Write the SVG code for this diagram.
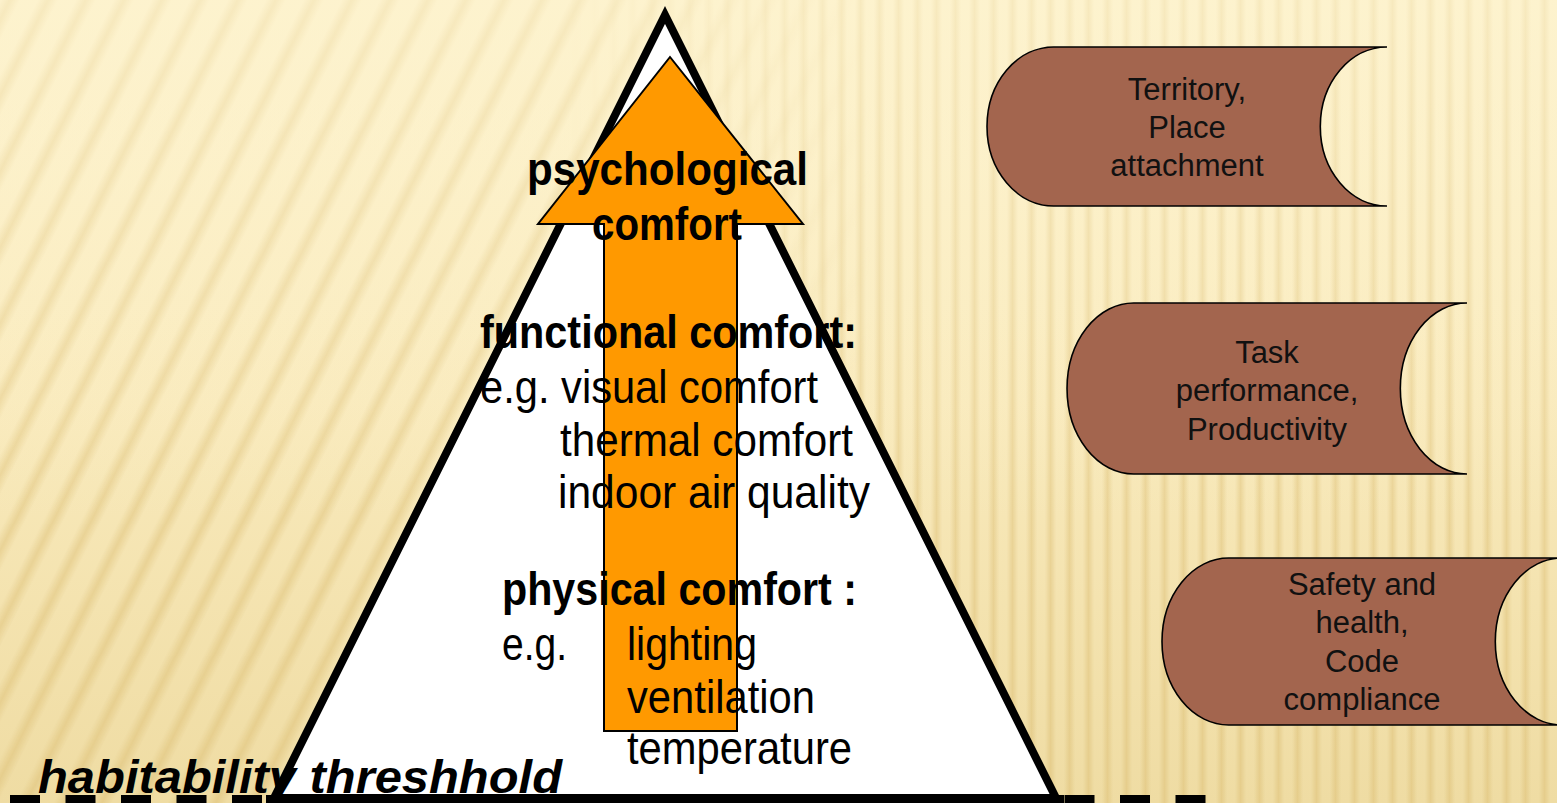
<svg xmlns="http://www.w3.org/2000/svg" width="1557" height="803" viewBox="0 0 1557 803">
<style>
  .t{font-family:"Liberation Sans",Arial,Helvetica,sans-serif;fill:#000;font-size:46px}
  .b{font-weight:bold}
  .bi{font-weight:bold;font-style:italic}
  .box{fill:#A3654E;stroke:#000;stroke-width:1.6}
  .boxt{font-family:"Liberation Sans",Arial,Helvetica,sans-serif;font-size:31px;fill:#111;text-anchor:middle}
</style>
<defs>
  <linearGradient id="bgGrad" x1="0" y1="0" x2="0" y2="1">
    <stop offset="0" stop-color="#FDF2CC"/>
    <stop offset="0.5" stop-color="#F9EABC"/>
    <stop offset="1" stop-color="#EFDCA3"/>
  </linearGradient>
  <linearGradient id="stripeG" x1="0" y1="0" x2="1" y2="0">
    <stop offset="0" stop-color="#D6B566" stop-opacity="0"/>
    <stop offset="0.5" stop-color="#D6B566" stop-opacity="0.38"/>
    <stop offset="1" stop-color="#D6B566" stop-opacity="0"/>
  </linearGradient>
  <pattern id="slant" width="38" height="40" patternUnits="userSpaceOnUse" patternTransform="skewX(-26.6)">
    <rect x="0" y="0" width="20" height="40" fill="url(#stripeG)"/>
  </pattern>
  <pattern id="vert" width="19" height="40" patternUnits="userSpaceOnUse">
    <rect x="0" y="0" width="11" height="40" fill="url(#stripeG)"/>
  </pattern>
  <linearGradient id="fadeL" x1="0" y1="0" x2="1557" y2="0" gradientUnits="userSpaceOnUse">
    <stop offset="0" stop-color="#fff"/>
    <stop offset="0.36" stop-color="#fff"/>
    <stop offset="0.56" stop-color="#000"/>
    <stop offset="1" stop-color="#000"/>
  </linearGradient>
  <linearGradient id="fadeR" x1="0" y1="0" x2="1557" y2="0" gradientUnits="userSpaceOnUse">
    <stop offset="0" stop-color="#000"/>
    <stop offset="0.36" stop-color="#000"/>
    <stop offset="0.56" stop-color="#fff"/>
    <stop offset="1" stop-color="#fff"/>
  </linearGradient>
  <mask id="mL"><rect width="1557" height="803" fill="url(#fadeL)"/></mask>
  <mask id="mR"><rect width="1557" height="803" fill="url(#fadeR)"/></mask>
  <linearGradient id="topFade" x1="0" y1="0" x2="0" y2="1">
    <stop offset="0" stop-color="#FDF3CF" stop-opacity="0.6"/>
    <stop offset="0.65" stop-color="#FDF3CF" stop-opacity="0"/>
  </linearGradient>
</defs>

<g id="background">
  <rect width="1557" height="803" fill="url(#bgGrad)"/>
  <rect width="1557" height="803" fill="url(#slant)" mask="url(#mL)"/>
  <rect width="1557" height="803" fill="url(#vert)" mask="url(#mR)"/>
  <rect width="1557" height="803" fill="url(#topFade)"/>
</g>

<g id="pyramid">
  <polygon points="665,15 274,798 1056,798" fill="#fff" stroke="#000" stroke-width="8"/>
</g>

<g id="threshold-line">
  <line x1="10" y1="799" x2="1206" y2="799" stroke="#000" stroke-width="8" stroke-dasharray="30 25.5"/>
  <line x1="266" y1="799" x2="1064" y2="799" stroke="#000" stroke-width="8"/>
</g>

<g id="connectors">
  <path id="arrow" d="M670,57 L803,224 L737,224 L737,731 L604,731 L604,224 L538,224 Z" fill="#FF9900" stroke="#000" stroke-width="2" stroke-linejoin="miter"/>
</g>

<g id="pyramid-labels">
  <text class="t b" x="527" y="185" textLength="281" lengthAdjust="spacingAndGlyphs">psychological</text>
  <text class="t b" x="592" y="240" textLength="150" lengthAdjust="spacingAndGlyphs">comfort</text>
  <text class="t b" x="480" y="348" textLength="377" lengthAdjust="spacingAndGlyphs">functional comfort:</text>
  <text class="t" x="480" y="403" textLength="338" lengthAdjust="spacingAndGlyphs">e.g. visual comfort</text>
  <text class="t" x="560" y="456" textLength="293" lengthAdjust="spacingAndGlyphs">thermal comfort</text>
  <text class="t" x="558" y="508" textLength="312" lengthAdjust="spacingAndGlyphs">indoor air quality</text>
  <text class="t b" x="502" y="605" textLength="355" lengthAdjust="spacingAndGlyphs">physical comfort :</text>
  <text class="t" x="502" y="660" textLength="65" lengthAdjust="spacingAndGlyphs">e.g.</text>
  <text class="t" x="627" y="660" textLength="130" lengthAdjust="spacingAndGlyphs">lighting</text>
  <text class="t" x="627" y="713" textLength="188" lengthAdjust="spacingAndGlyphs">ventilation</text>
  <text class="t" x="627" y="764" textLength="225" lengthAdjust="spacingAndGlyphs">temperature</text>
  <text class="t bi" x="38" y="793" textLength="524" lengthAdjust="spacingAndGlyphs">habitability threshhold</text>
</g>

<g id="node-territory">
  <path class="box" d="M1053.7,47 L1387,47 A66.7,79.5 0 0 0 1387,206 L1053.7,206 A66.7,79.5 0 0 1 1053.7,47 Z"/>
  <text class="boxt" x="1187" y="100">Territory,</text>
  <text class="boxt" x="1187" y="138">Place</text>
  <text class="boxt" x="1187" y="176">attachment</text>
</g>

<g id="node-task">
  <path class="box" d="M1133.7,303 L1467,303 A66.7,85.5 0 0 0 1467,474 L1133.7,474 A66.7,85.5 0 0 1 1133.7,303 Z"/>
  <text class="boxt" x="1267" y="363">Task</text>
  <text class="boxt" x="1267" y="401">performance,</text>
  <text class="boxt" x="1267" y="440">Productivity</text>
</g>

<g id="node-safety">
  <path class="box" d="M1228.7,558 L1562,558 A66.7,83.5 0 0 0 1562,725 L1228.7,725 A66.7,83.5 0 0 1 1228.7,558 Z"/>
  <text class="boxt" x="1362" y="595">Safety and</text>
  <text class="boxt" x="1362" y="633">health,</text>
  <text class="boxt" x="1362" y="672">Code</text>
  <text class="boxt" x="1362" y="710">compliance</text>
</g>
</svg>
